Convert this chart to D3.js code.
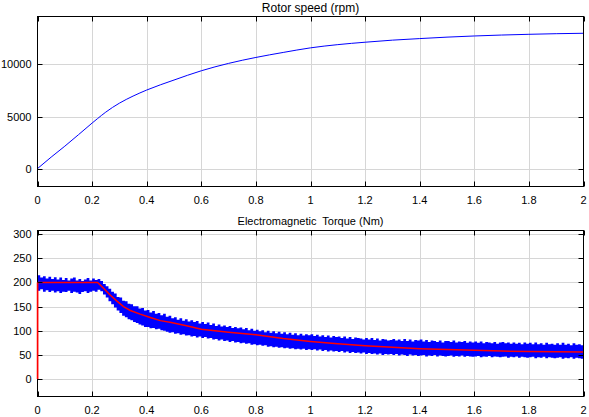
<!DOCTYPE html>
<html>
<head>
<meta charset="utf-8">
<script src="https://cdn.jsdelivr.net/npm/d3@7"></script>
<style>
  body { margin: 0; background: #fff; }
  text { font-family: Arial, "Liberation Sans", sans-serif; fill: #000; }
</style>
</head>
<body>
<div id="chart"></div>
<script>
// time axis ticks (s)
var xTicks = [0, 0.2, 0.4, 0.6, 0.8, 1, 1.2, 1.4, 1.6, 1.8, 2];

// rotor speed (rpm)
var speedT   = [0, 0.05, 0.1, 0.15, 0.2, 0.22, 0.25, 0.3, 0.35, 0.4, 0.5, 0.6, 0.7, 0.8, 0.9, 1.0, 1.1, 1.2, 1.3, 1.4, 1.5, 1.6, 1.7, 1.8, 1.9, 2.0];
var speedRpm = [0, 1100, 2150, 3250, 4370, 4800, 5420, 6280, 6960, 7540, 8500, 9390, 10100, 10670, 11150, 11590, 11900, 12130, 12330, 12480, 12620, 12730, 12820, 12890, 12950, 12990];
var speedTicks = [0, 5000, 10000];

// reference / mean torque (red)
var refT  = [0, 0, 0.22, 0.242, 0.266, 0.29, 0.315, 0.34, 0.376, 0.413, 0.45, 0.49, 0.55, 0.6, 0.7, 0.8, 0.9, 1.0, 1.1, 1.2, 1.3, 1.4, 1.5, 1.6, 1.7, 1.8, 1.9, 2.0];
var refNm = [0, 200, 200, 188, 174, 162, 150, 142, 134.5, 127.5, 121, 117, 110, 103, 97, 92, 84, 78, 73, 69, 66, 63, 61, 59.5, 58, 57, 56.5, 56];
var torqueTicks = [0, 50, 100, 150, 200, 250, 300];

// measured torque band (blue), upper and lower edges every 0.01 s
var bandStep = 0.01;
var bandTop = [
  215, 210, 213, 208, 212, 207, 211, 206, 210, 205,
  209, 204, 208, 210, 204, 207, 203, 206, 209, 204,
  208, 205, 207, 203, 197, 192, 187, 181, 177, 170,
  169, 162, 161, 156, 155, 151, 151, 146, 147, 142,
  143, 138, 141, 135, 137, 132, 135, 129, 131, 126,
  128, 123, 126, 121, 124, 119, 122, 118, 120, 115,
  118, 114, 117, 112, 115, 110, 113, 109, 111, 108,
  110, 106, 108, 105, 107, 103, 106, 101, 104, 100,
  102, 99, 101, 97, 100, 96, 99, 95, 98, 94,
  97, 93, 96, 92, 95, 91, 94, 90, 93, 91,
  93, 89, 92, 88, 91, 87, 90, 86, 89, 87,
  88, 85, 88, 84, 87, 83, 86, 85, 84, 82,
  85, 82, 85, 81, 84, 80, 83, 82, 80, 81,
  83, 80, 82, 79, 83, 79, 82, 78, 81, 80,
  82, 78, 81, 77, 80, 79, 77, 80, 76, 79,
  79, 77, 80, 76, 78, 77, 79, 75, 78, 76,
  78, 75, 78, 74, 77, 76, 74, 77, 73, 76,
  77, 74, 76, 73, 76, 73, 75, 72, 76, 73,
  75, 72, 76, 72, 74, 71, 75, 72, 73, 71,
  74, 71, 75, 71, 73, 70, 74, 71, 72, 70,
  72
];
var bandBottom = [
  183, 186, 181, 184, 180, 183, 179, 182, 178, 181,
  180, 183, 178, 181, 179, 176, 180, 182, 178, 181,
  183, 181, 185, 182, 175, 169, 161, 155, 148, 142,
  137, 131, 128, 124, 122, 118, 116, 113, 111, 108,
  108, 105, 106, 103, 104, 101, 100, 98, 96, 97,
  94, 95, 92, 93, 90, 91, 88, 89, 86, 88,
  85, 87, 84, 85, 82, 83, 80, 82, 79, 80,
  77, 79, 76, 77, 74, 75, 73, 74, 71, 72,
  70, 71, 69, 70, 67, 68, 66, 67, 65, 66,
  64, 65, 63, 64, 62, 63, 61, 63, 60, 62,
  60, 62, 59, 61, 58, 60, 57, 59, 57, 58,
  56, 58, 55, 57, 54, 56, 54, 55, 53, 55,
  52, 54, 52, 53, 51, 53, 50, 52, 51, 52,
  50, 52, 49, 51, 50, 48, 51, 49, 50, 48,
  49, 50, 47, 49, 48, 50, 47, 49, 48, 47,
  48, 49, 46, 48, 47, 49, 46, 48, 47, 46,
  47, 48, 45, 47, 46, 48, 45, 47, 46, 45,
  46, 47, 44, 46, 45, 47, 44, 46, 45, 44,
  45, 46, 43, 45, 44, 46, 43, 45, 44, 43,
  44, 45, 42, 44, 43, 45, 42, 44, 43, 42,
  44
];

var width = 589, height = 417;
var svg = d3.select("#chart").append("svg")
  .attr("width", width).attr("height", height);

var left = 37.5, right = 583.5;
var x = d3.scaleLinear().domain([0, 2]).range([left, right]);

function drawPanel(top, bottom, y, yTicks, title, titleY, titleSize, id) {
  var g = svg.append("g");

  // grid
  g.selectAll(".gx").data(xTicks.slice(1, -1)).enter().append("line")
    .attr("x1", function(d) { return Math.round(x(d)) + 0.5; })
    .attr("x2", function(d) { return Math.round(x(d)) + 0.5; })
    .attr("y1", top).attr("y2", bottom)
    .attr("stroke", "#d6d6d6");
  g.selectAll(".gy").data(yTicks).enter().append("line")
    .attr("x1", left).attr("x2", right)
    .attr("y1", function(d) { return Math.round(y(d)) + 0.5; })
    .attr("y2", function(d) { return Math.round(y(d)) + 0.5; })
    .attr("stroke", "#d6d6d6");

  g.append("clipPath").attr("id", id)
    .append("rect").attr("x", left).attr("y", top)
    .attr("width", right - left).attr("height", bottom - top);

  var plot = svg.append("g").attr("clip-path", "url(#" + id + ")");
  var frame = svg.append("g");

  frame.append("rect")
    .attr("x", left).attr("y", top)
    .attr("width", right - left).attr("height", bottom - top)
    .attr("fill", "none").attr("stroke", "#000");

  // inward ticks on all four sides
  xTicks.forEach(function(d) {
    var px = Math.round(x(d)) + 0.5;
    frame.append("line").attr("x1", px).attr("x2", px)
      .attr("y1", bottom).attr("y2", bottom - 5).attr("stroke", "#000");
    frame.append("line").attr("x1", px).attr("x2", px)
      .attr("y1", top).attr("y2", top + 5).attr("stroke", "#000");
    frame.append("text").attr("x", x(d)).attr("y", bottom + 17)
      .attr("text-anchor", "middle").attr("font-size", 11).text(String(d));
  });
  yTicks.forEach(function(d) {
    var py = Math.round(y(d)) + 0.5;
    frame.append("line").attr("x1", left).attr("x2", left + 5)
      .attr("y1", py).attr("y2", py).attr("stroke", "#000");
    frame.append("line").attr("x1", right).attr("x2", right - 5)
      .attr("y1", py).attr("y2", py).attr("stroke", "#000");
    frame.append("text").attr("x", left - 6).attr("y", y(d) + 4)
      .attr("text-anchor", "end").attr("font-size", 11).text(String(d));
  });

  frame.append("text").attr("x", (left + right) / 2).attr("y", titleY)
    .attr("text-anchor", "middle").attr("font-size", titleSize)
    .attr("xml:space", "preserve").style("white-space", "pre")
    .text(title);

  return plot;
}

// ---- top: rotor speed
var ySpeed = d3.scaleLinear().domain([-1720, 14600]).range([186.5, 16.5]);
var p1 = drawPanel(16.5, 186.5, ySpeed, speedTicks, "Rotor speed (rpm)", 12, 12, "clipA");
p1.append("path")
  .datum(d3.range(speedT.length))
  .attr("fill", "none").attr("stroke", "#0000ff").attr("stroke-width", 1)
  .attr("d", d3.line()
    .x(function(i) { return x(speedT[i]); })
    .y(function(i) { return ySpeed(speedRpm[i]); })
    .curve(d3.curveMonotoneX));

// ---- bottom: electromagnetic torque
var yTorque = d3.scaleLinear().domain([-36, 307.5]).range([396.5, 230.5]);
var p2 = drawPanel(230.5, 396.5, yTorque, torqueTicks, "Electromagnetic  Torque (Nm)", 225, 11, "clipB");

p2.append("path")
  .datum(d3.range(bandTop.length))
  .attr("fill", "#0000ff")
  .attr("d", d3.area()
    .x(function(i) { return x(i * bandStep); })
    .y0(function(i) { return yTorque(bandBottom[i]); })
    .y1(function(i) { return yTorque(bandTop[i]); })
    .curve(d3.curveStepAfter));

p2.append("path")
  .datum(d3.range(refT.length))
  .attr("fill", "none").attr("stroke", "#ff0000").attr("stroke-width", 1.5)
  .attr("d", d3.line()
    .x(function(i) { return x(refT[i]); })
    .y(function(i) { return yTorque(refNm[i]); }));

// red start-up edge sits on the left frame
svg.append("line")
  .attr("x1", x(0)).attr("x2", x(0))
  .attr("y1", yTorque(0)).attr("y2", yTorque(200))
  .attr("stroke", "#ff0000").attr("stroke-width", 1.5);
</script>
</body>
</html>
